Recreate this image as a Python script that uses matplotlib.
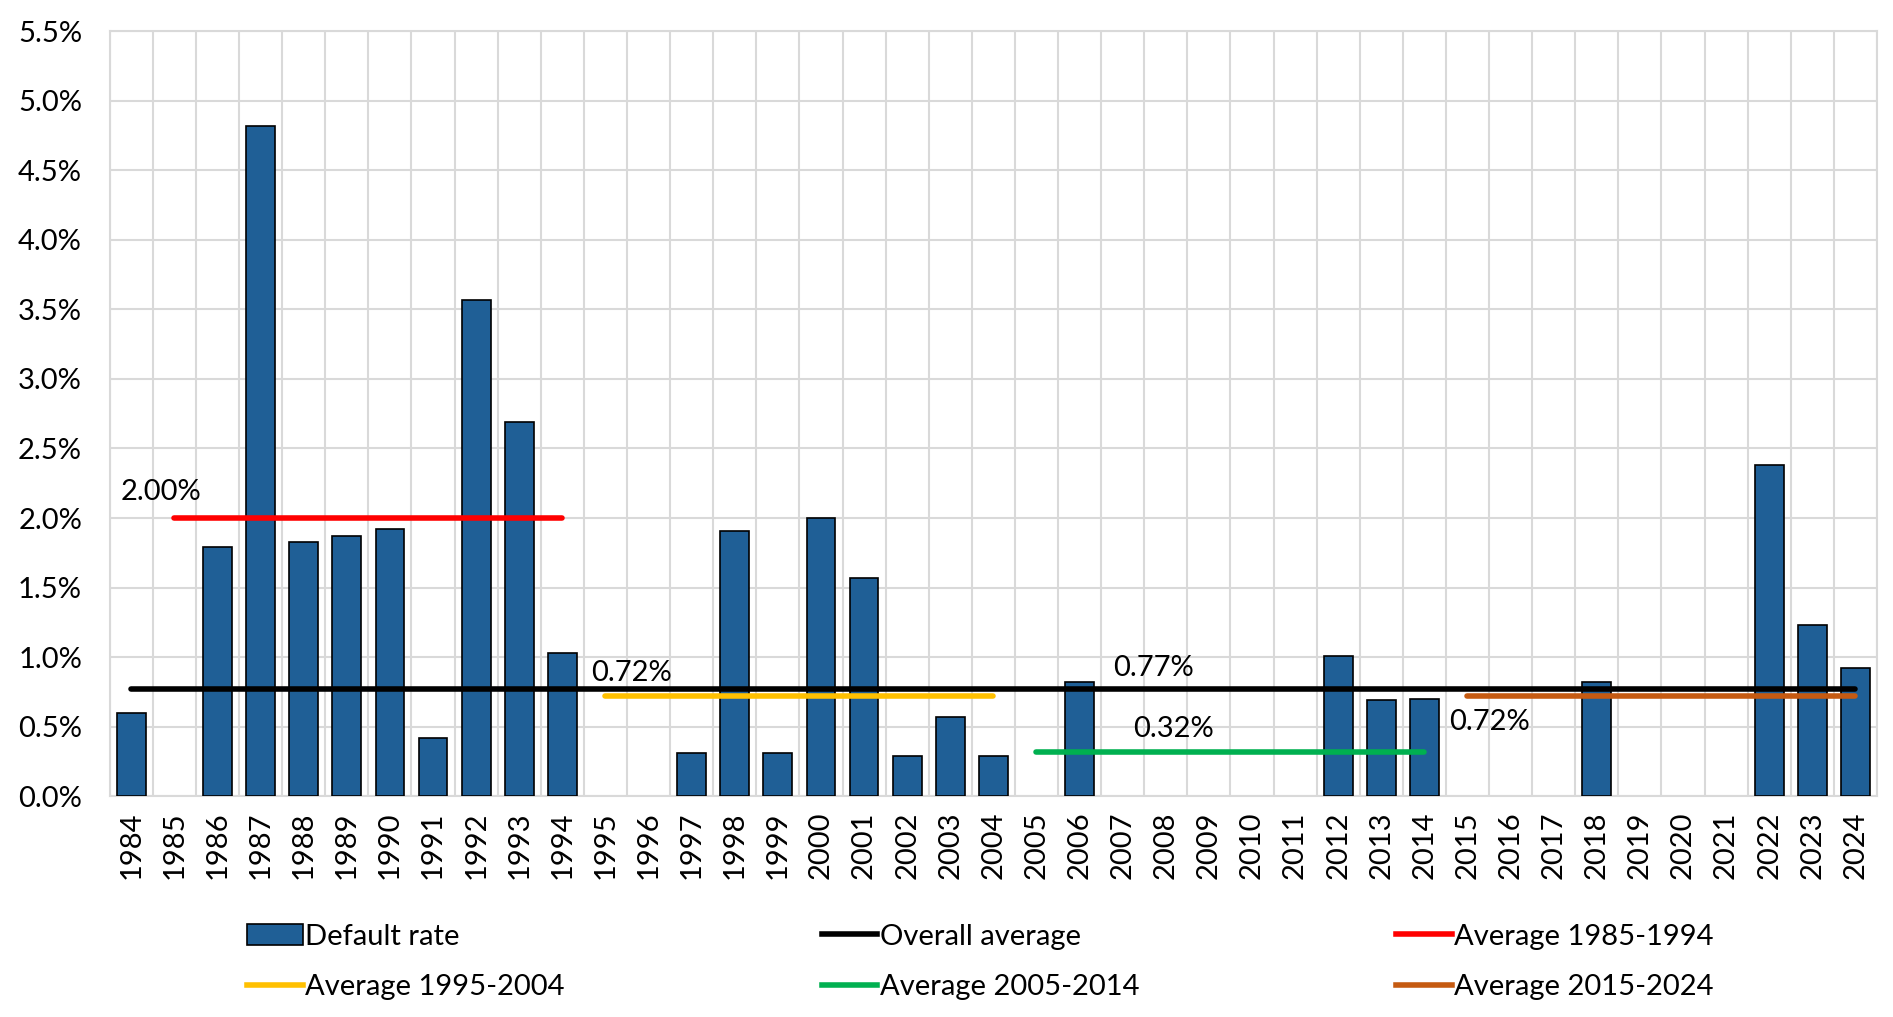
import numpy as np
import matplotlib
matplotlib.use("Agg")
import matplotlib.pyplot as plt
from matplotlib.ticker import FixedLocator, FuncFormatter
from matplotlib.lines import Line2D
from matplotlib.patches import Patch

plt.rcParams['font.family'] = ['Lato', 'DejaVu Sans']

years = list(range(1984, 2025))
default_rate = [0.60, 0.00, 1.79, 4.82, 1.83, 1.87, 1.92, 0.42, 3.57, 2.69, 1.03,
                0.00, 0.00, 0.31, 1.91, 0.31, 2.00, 1.57, 0.29, 0.57, 0.29,
                0.00, 0.82, 0.00, 0.00, 0.00, 0.00, 0.00, 1.01, 0.69, 0.70,
                0.00, 0.00, 0.00, 0.82, 0.00, 0.00, 0.00, 2.38, 1.23, 0.92]

overall_avg = 0.77
avg_labels = ["Average 1985-1994", "Average 1995-2004", "Average 2005-2014", "Average 2015-2024"]
avg_spans = [(1985, 1994), (1995, 2004), (2005, 2014), (2015, 2024)]
avg_values = [2.00, 0.72, 0.32, 0.72]
avg_colors = ["#FF0000", "#FFC000", "#00B050", "#C55A11"]

bar_color = "#1F5F96"
grid_color = "#D9D9D9"
fs = 21

fig = plt.figure(figsize=(18.93, 10.17), dpi=100)
ax = fig.add_axes([0.058, 0.217, 0.9335, 0.7525])

x = np.arange(len(years))
rates = np.array(default_rate)
nz = rates > 0
# zero years get no bar at all (Excel shows nothing there)
ax.bar(x[nz], rates[nz], width=0.67, color=bar_color, edgecolor="black", linewidth=1.2, zorder=3)

lw = 4.0
ax.plot([x[0], x[-1]], [overall_avg, overall_avg], color="black", lw=lw,
        solid_capstyle="round", zorder=5)
for (y0, y1), v, c in zip(avg_spans, avg_values, avg_colors):
    i0, i1 = years.index(y0), years.index(y1)
    ax.plot([i0, i1], [v, v], color=c, lw=lw, solid_capstyle="round", zorder=4)

# value labels
ax.text(years.index(1985) - 1.25, 2.00 + 0.09, "2.00%", fontsize=fs, va="bottom", ha="left", zorder=6)
ax.text(years.index(1995) - 0.33, 0.72 + 0.07, "0.72%", fontsize=fs, va="bottom", ha="left", zorder=6)
ax.text(years.index(2007) - 0.23, 0.77 + 0.06, "0.77%", fontsize=fs, va="bottom", ha="left", zorder=6)
ax.text(years.index(2008) - 0.75, 0.32 + 0.07, "0.32%", fontsize=fs, va="bottom", ha="left", zorder=6)
ax.text(years.index(2015) - 0.42, 0.72 - 0.09, "0.72%", fontsize=fs, va="top", ha="left", zorder=6)

ax.set_xlim(-0.5, len(years) - 0.5)
ax.set_ylim(0, 5.5)
ax.set_yticks(np.arange(0, 5.51, 0.5))
ax.yaxis.set_major_formatter(FuncFormatter(lambda v, p: "%.1f%%" % v))
ax.set_xticks(x)
ax.set_xticklabels([str(y) for y in years], rotation=90)
ax.xaxis.set_minor_locator(FixedLocator(np.arange(-0.5, len(years), 1.0)))

ax.grid(which="minor", axis="x", color=grid_color, lw=1.5, zorder=0)
ax.grid(which="major", axis="y", color=grid_color, lw=1.5, zorder=0)
ax.set_axisbelow(True)
for s in ax.spines.values():
    s.set_color(grid_color)
    s.set_linewidth(1.5)
ax.tick_params(axis="both", which="both", length=0, labelsize=fs)
ax.tick_params(axis="y", pad=20)
ax.tick_params(axis="x", pad=11)

handles = [Patch(facecolor=bar_color, edgecolor="black", linewidth=1.2),
           Line2D([], [], color=avg_colors[1], lw=lw),
           Line2D([], [], color="black", lw=lw),
           Line2D([], [], color=avg_colors[2], lw=lw),
           Line2D([], [], color=avg_colors[0], lw=lw),
           Line2D([], [], color=avg_colors[3], lw=lw)]
labels = ["Default rate", avg_labels[1], "Overall average", avg_labels[2], avg_labels[0], avg_labels[3]]
fig.legend(handles, labels, ncol=3, loc="center", bbox_to_anchor=(0.518, 0.054),
           frameon=False, fontsize=fs, handlelength=1.9, handletextpad=0.1,
           columnspacing=8.8, labelspacing=0.85)

fig.savefig("out.png", dpi=100)
